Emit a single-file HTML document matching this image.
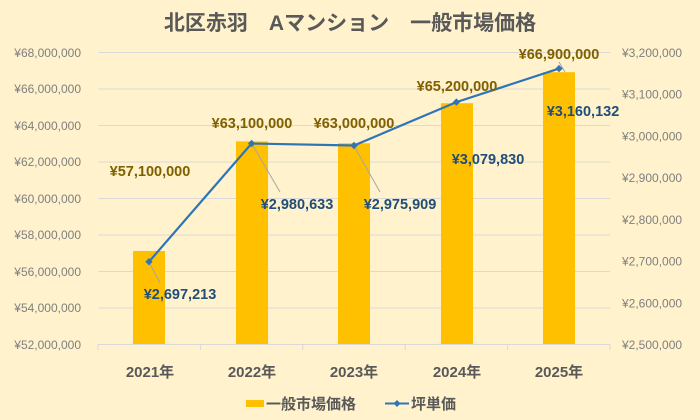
<!DOCTYPE html>
<html><head><meta charset="utf-8"><style>
body{margin:0;background:#fff}
svg{display:block;font-family:"Liberation Sans","Noto Sans CJK JP",sans-serif}
</style></head><body>
<svg width="700" height="420" viewBox="0 0 700 420">
<rect x="0" y="0" width="700" height="420" fill="#FFF2CC"/>
<text x="350" y="30" text-anchor="middle" font-size="21" font-weight="bold" fill="#595959">北区赤羽　Aマンション　一般市場価格</text>
<g stroke="#D9D9D9" stroke-width="1">
<line x1="98" x2="610" y1="52.5" y2="52.5"/><line x1="98" x2="610" y1="89" y2="89"/>
<line x1="98" x2="610" y1="125.5" y2="125.5"/><line x1="98" x2="610" y1="162" y2="162"/>
<line x1="98" x2="610" y1="198.5" y2="198.5"/><line x1="98" x2="610" y1="235" y2="235"/>
<line x1="98" x2="610" y1="271.5" y2="271.5"/><line x1="98" x2="610" y1="308" y2="308"/>
<line x1="98" x2="610" y1="344.5" y2="344.5"/>
<line x1="98" x2="98" y1="344" y2="350"/><line x1="200.4" x2="200.4" y1="344" y2="350"/>
<line x1="302.8" x2="302.8" y1="344" y2="350"/><line x1="405.2" x2="405.2" y1="344" y2="350"/>
<line x1="507.6" x2="507.6" y1="344" y2="350"/><line x1="610" x2="610" y1="344" y2="350"/>
</g>
<g font-size="12" fill="#7F7F7F" text-anchor="end">
<text x="81" y="57">¥68,000,000</text><text x="81" y="93">¥66,000,000</text>
<text x="81" y="130">¥64,000,000</text><text x="81" y="166">¥62,000,000</text>
<text x="81" y="203">¥60,000,000</text><text x="81" y="239">¥58,000,000</text>
<text x="81" y="276">¥56,000,000</text><text x="81" y="312">¥54,000,000</text>
<text x="81" y="349">¥52,000,000</text>
</g>
<g font-size="12" fill="#7F7F7F">
<text x="622" y="57">¥3,200,000</text><text x="622" y="98.7">¥3,100,000</text>
<text x="622" y="140.4">¥3,000,000</text><text x="622" y="182.1">¥2,900,000</text>
<text x="622" y="223.9">¥2,800,000</text><text x="622" y="265.6">¥2,700,000</text>
<text x="622" y="307.3">¥2,600,000</text><text x="622" y="349">¥2,500,000</text>
</g>
<g fill="#FFC000">
<rect x="133" y="251" width="32" height="93"/>
<rect x="236" y="141.4" width="32" height="202.6"/>
<rect x="338" y="143.3" width="32" height="200.7"/>
<rect x="441" y="103.2" width="32" height="240.8"/>
<rect x="543" y="72.2" width="32" height="271.8"/>
</g>
<g stroke="#A6A6A6" stroke-width="1" fill="none">
<line x1="149" y1="262" x2="160" y2="283"/>
<line x1="252" y1="144" x2="280" y2="192"/>
<line x1="354" y1="146" x2="380" y2="192"/>
<line x1="559" y1="62" x2="565" y2="72"/>
</g>
<polyline points="149,261.7 251.6,143.5 354,145.5 456.4,102.1 559,68.6" fill="none" stroke="#2E75B6" stroke-width="2.2"/>
<g fill="#2E75B6">
<path d="M149,258 l3.7,3.7 -3.7,3.7 -3.7,-3.7z"/><path d="M251.6,139.8 l3.7,3.7 -3.7,3.7 -3.7,-3.7z"/>
<path d="M354,141.8 l3.7,3.7 -3.7,3.7 -3.7,-3.7z"/><path d="M456.4,98.4 l3.7,3.7 -3.7,3.7 -3.7,-3.7z"/>
<path d="M559,64.9 l3.7,3.7 -3.7,3.7 -3.7,-3.7z"/>
</g>
<g font-size="14.5" font-weight="bold" fill="#7F6000" text-anchor="middle">
<text x="150" y="176">¥57,100,000</text><text x="252" y="128">¥63,100,000</text>
<text x="354" y="128">¥63,000,000</text><text x="457" y="91">¥65,200,000</text>
<text x="559" y="59">¥66,900,000</text>
</g>
<g font-size="14.5" font-weight="bold" fill="#1F4E79" text-anchor="middle">
<text x="180" y="299">¥2,697,213</text><text x="297" y="209">¥2,980,633</text>
<text x="400" y="209">¥2,975,909</text><text x="488" y="164">¥3,079,830</text>
<text x="583" y="116">¥3,160,132</text>
</g>
<g font-size="15" font-weight="bold" fill="#595959" text-anchor="middle">
<text x="150" y="377">2021年</text><text x="252" y="377">2022年</text>
<text x="354" y="377">2023年</text><text x="457" y="377">2024年</text>
<text x="559" y="377">2025年</text>
</g>
<rect x="246" y="400" width="18" height="7" fill="#FFC000"/>
<text x="266" y="409" font-size="15" font-weight="bold" fill="#595959">一般市場価格</text>
<line x1="385" x2="409" y1="403.5" y2="403.5" stroke="#2E75B6" stroke-width="2"/>
<path d="M397,400 l3.5,3.5 -3.5,3.5 -3.5,-3.5z" fill="#2E75B6"/>
<text x="411" y="409" font-size="15" font-weight="bold" fill="#595959">坪単価</text>
</svg>
</body></html>
